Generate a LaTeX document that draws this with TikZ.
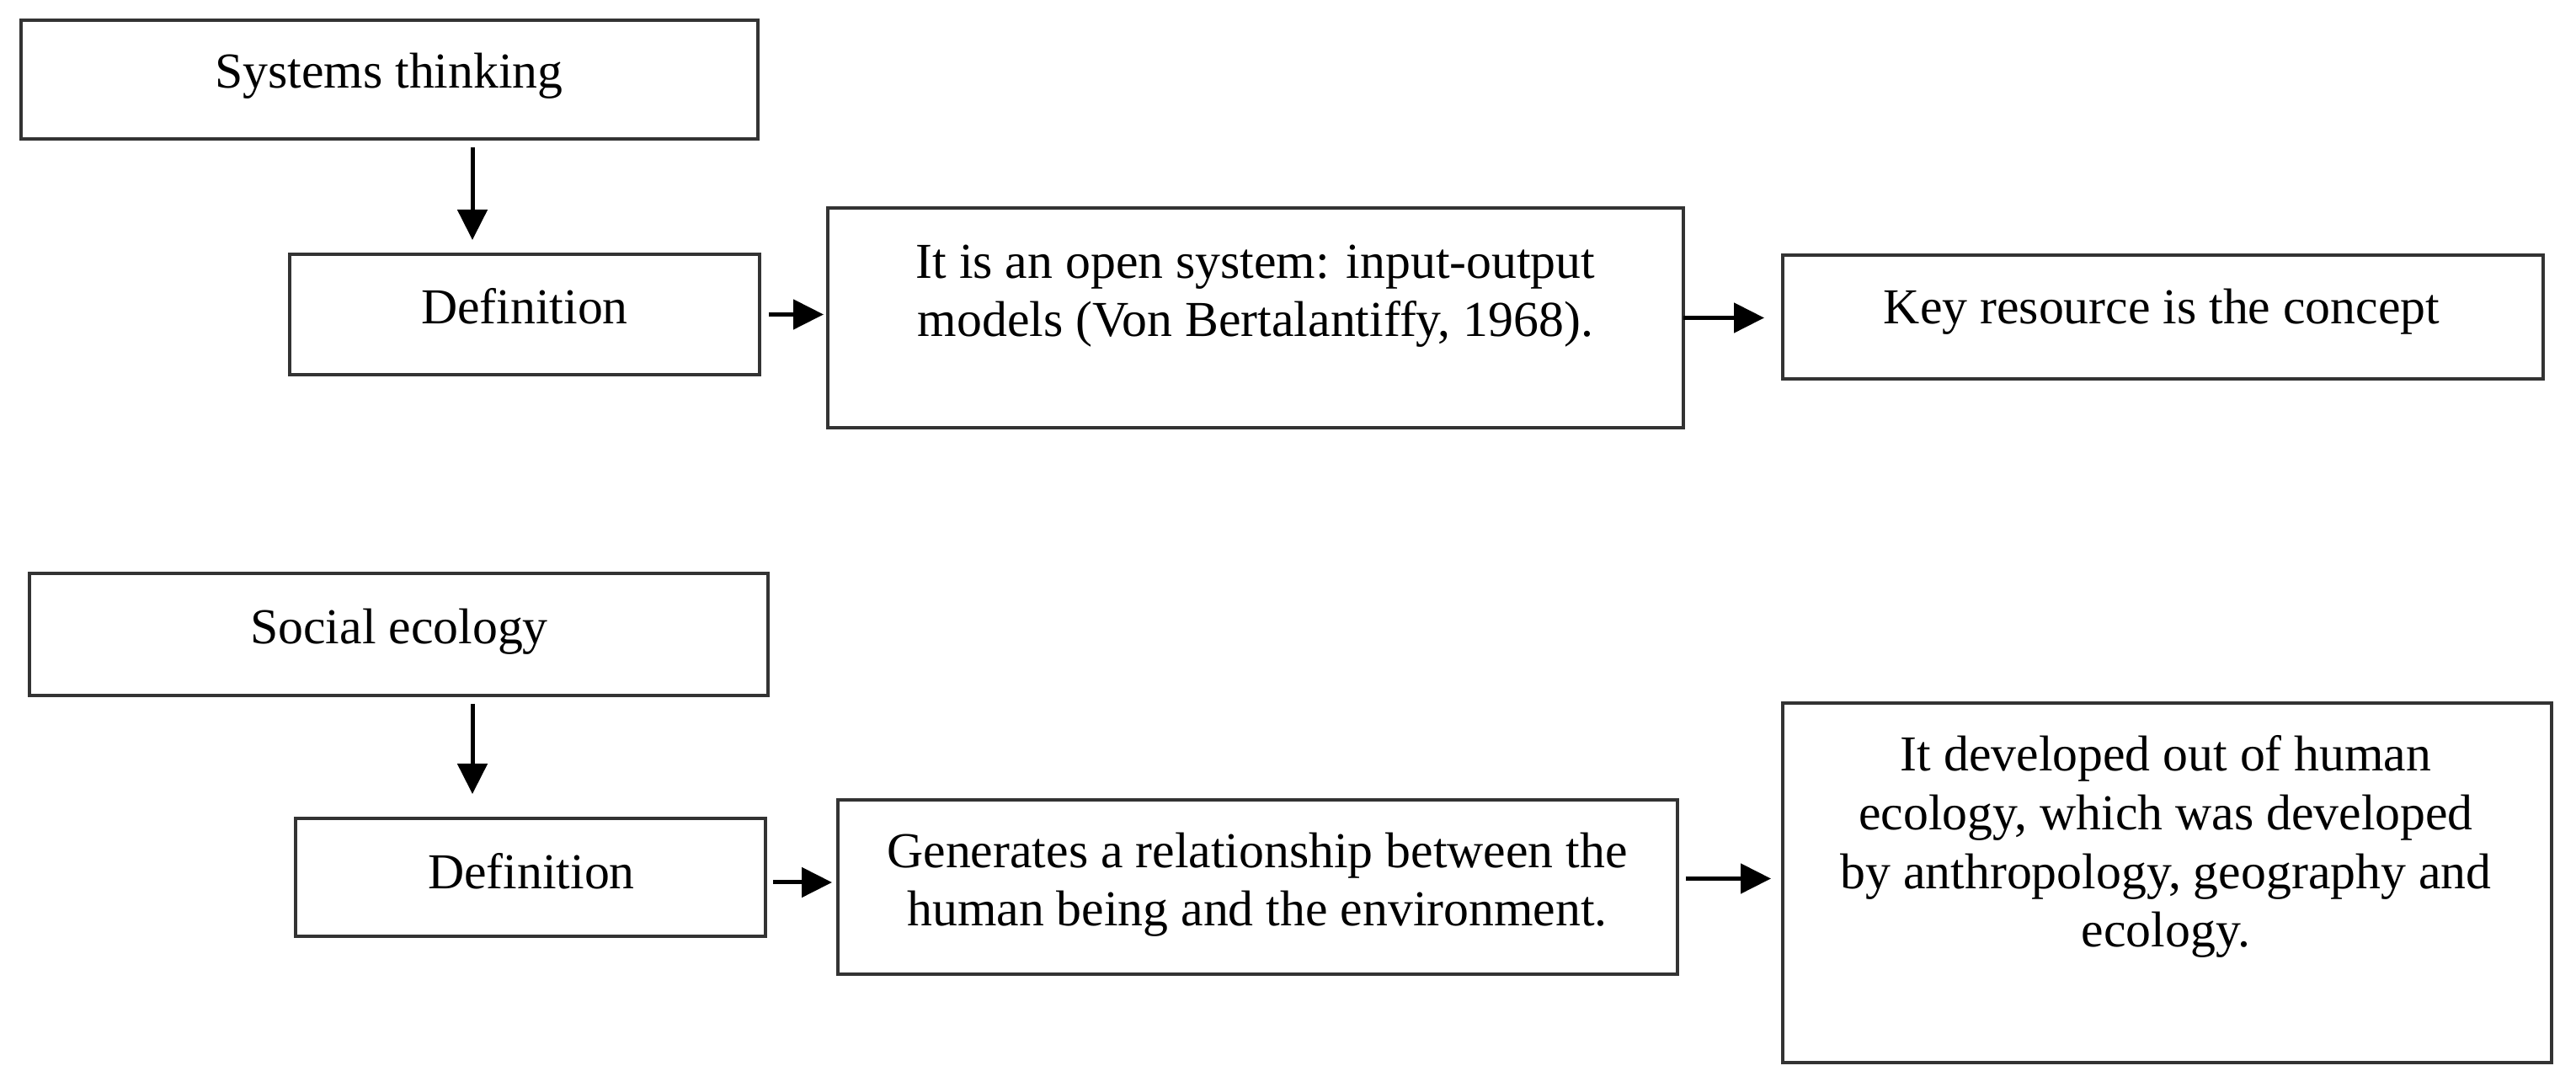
\documentclass[tikz,border=0pt]{standalone}
\usepackage{fontspec}
\setmainfont{Liberation Serif}
\usetikzlibrary{arrows.meta,calc}
\begin{document}
\begin{tikzpicture}[
  box/.style={draw=black!80, line width=0.035cm, inner sep=0pt, outer sep=0pt, fill=white},
  lbl/.style={anchor=base, inner sep=0pt, align=center, font=\fontsize{17}{19.9}\selectfont},
  arr/.style={draw=black, line width=0.05cm, -{Triangle[length=0.36cm,width=0.35cm]}}
]
\useasboundingbox[fill=white] (0,0) rectangle (30.59,12.91);
% boxes
\node[box, minimum width=8.75cm, minimum height=1.41cm] (A) at (4.625,11.965) {};
\node[box, minimum width=5.58cm, minimum height=1.43cm] (B) at (6.23,9.175) {};
\node[box, minimum width=10.16cm, minimum height=2.61cm] (C) at (14.91,9.135) {};
\node[box, minimum width=9.03cm, minimum height=1.47cm] (D) at (25.685,9.145) {};
\node[box, minimum width=8.77cm, minimum height=1.45cm] (E) at (4.735,5.375) {};
\node[box, minimum width=5.58cm, minimum height=1.40cm] (F) at (6.30,2.49) {};
\node[box, minimum width=9.97cm, minimum height=2.07cm] (G) at (14.935,2.375) {};
\node[box, minimum width=9.13cm, minimum height=4.27cm] (H) at (25.735,2.425) {};
% texts (base anchor = baseline of the last line)
\node[lbl] (tA) at (4.62,11.86) {Systems thinking};
\node[lbl] (tB) at (6.23,9.06) {Definition};
\node[lbl] (tC) at (14.91,8.91) {It is an open system: input-output\\models (Von Bertalantiffy, 1968).};
\node[lbl] (tD) at (25.67,9.06) {Key resource is the concept};
\node[lbl] (tE) at (4.74,5.26) {Social ecology};
\node[lbl] (tF) at (6.31,2.35) {Definition};
\node[lbl] (tG) at (14.93,1.91) {Generates a relationship between the\\human being and the environment.};
\node[lbl] (tH) at (25.72,1.66) {It developed out of human\\ecology, which was developed\\by anthropology, geography and\\ecology.};
% connectors
\draw[arr, shorten <=0.1cm, shorten >=0.17cm] ([xshift=0.985cm]A.south) -- ([xshift=0.985cm]A.south |- B.north);
\draw[arr, shorten <=0.11cm, shorten >=0.05cm] (B.east) -- (B.east -| C.west);
\draw[arr, shorten >=0.22cm] (C.east) -- (C.east -| D.west);
\draw[arr, shorten <=0.1cm, shorten >=0.29cm] ([xshift=0.875cm]E.south) -- ([xshift=0.875cm]E.south |- F.north);
\draw[arr, shorten <=0.09cm, shorten >=0.07cm] ([yshift=-0.06cm]F.east) -- ([yshift=-0.06cm]F.east -| G.west);
\draw[arr, shorten <=0.1cm, shorten >=0.14cm] ([yshift=0.1cm]G.east) -- ([yshift=0.1cm]G.east -| H.west);
\end{tikzpicture}
\end{document}
